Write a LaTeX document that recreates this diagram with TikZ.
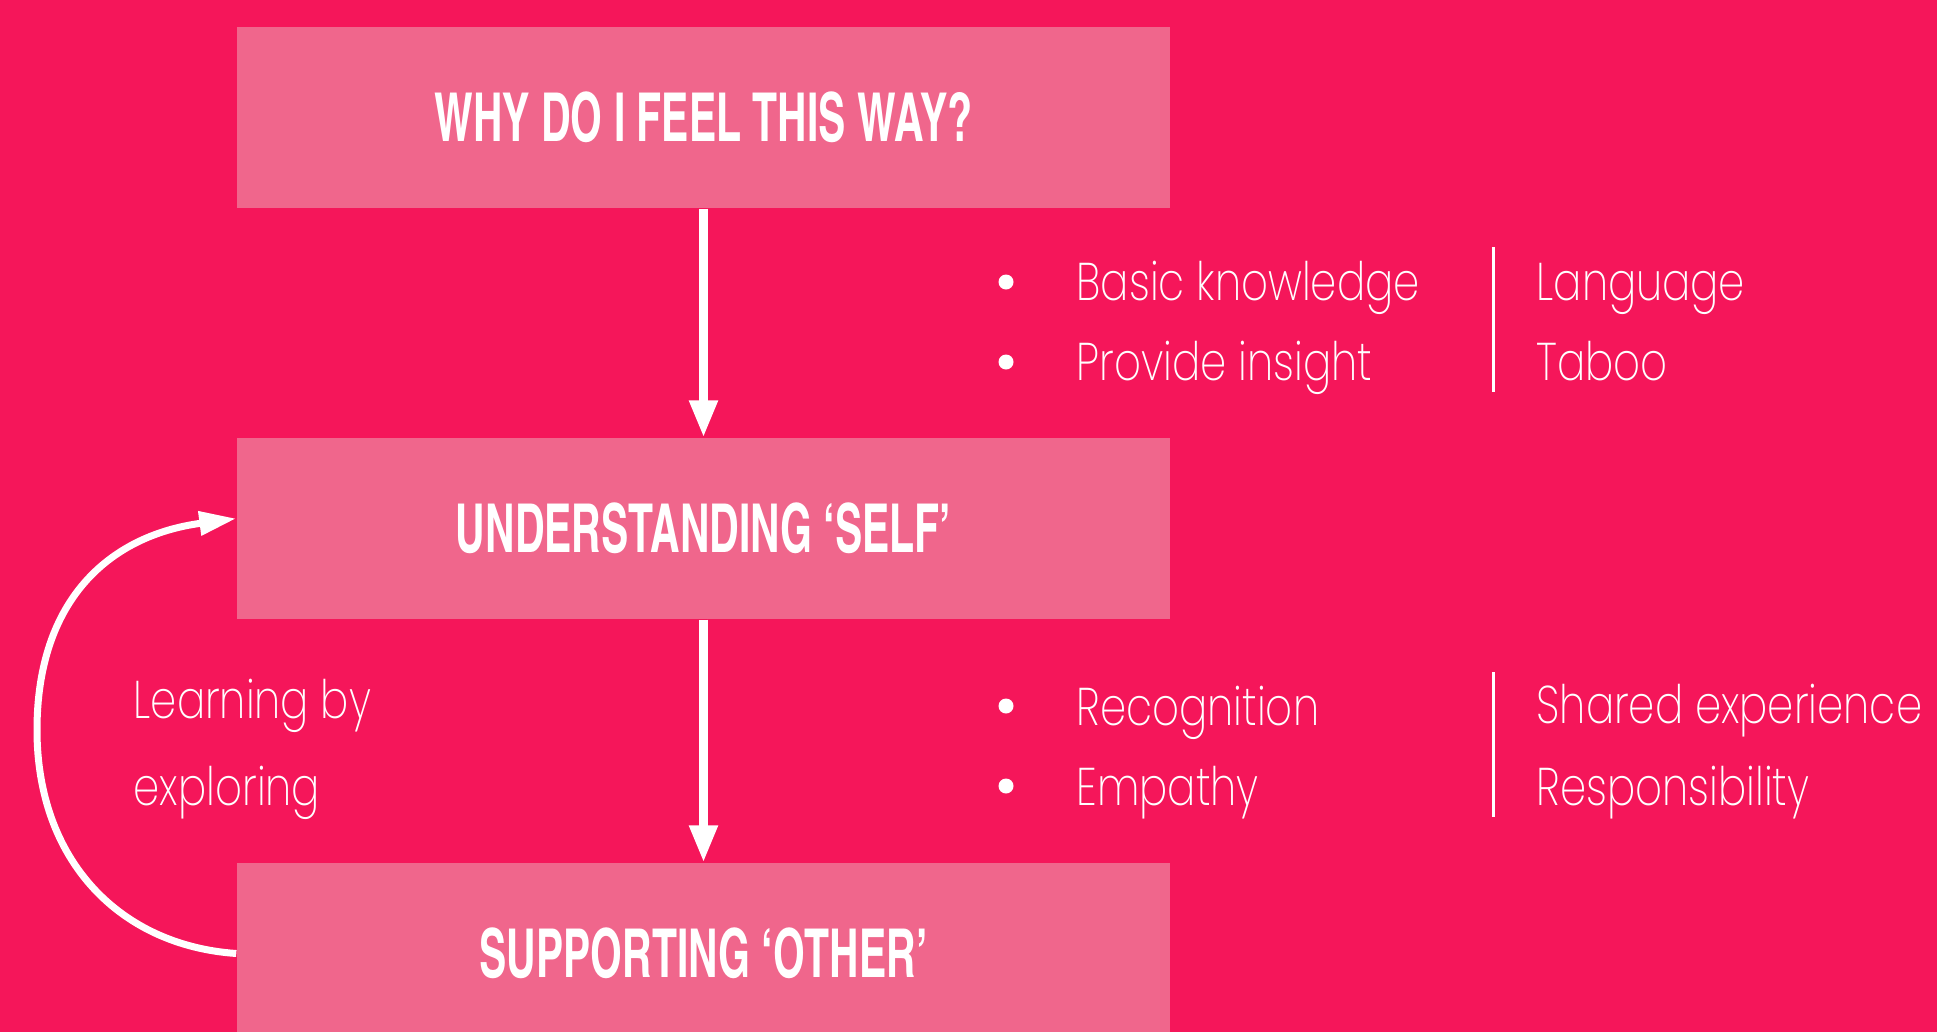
\documentclass[tikz,border=0pt]{standalone}
\usepackage{fontspec}
\usetikzlibrary{arrows.meta,calc}
\newfontfamily\titlefont[FakeStretch=0.74]{texgyreheroscn-bold.otf}
\newfontfamily\bodyfont[FakeStretch=0.79]{Poppins ExtraLight}
\definecolor{colorBG}{HTML}{F5165A}
\definecolor{colorBOX}{HTML}{F0668C}
\tikzset{
   stage/.style={fill=colorBOX,minimum width=93.3mm,minimum height=18.1mm,inner sep=0pt,text=white,font=\titlefont\fontsize{19.2}{22}\selectfont},
   flow/.style={-{Triangle[width=2.7mm,length=3.7mm]},draw=white,line width=0.83mm},
   loopback/.style={-{Triangle[width=2.3mm,length=3.7mm]},draw=white,line width=0.7mm},
   item/.style={anchor=base west,inner sep=0pt,text=white,font=\bodyfont\fontsize{15.1}{18}\selectfont},
   dot/.style={circle,fill=white,minimum size=1.5mm,inner sep=0pt},
   sep/.style={draw=white,line width=0.3mm},
}

\begin{document}
\begin{tikzpicture}[x=0.1mm, y=-0.1mm]
    \fill[colorBG] (0,0) rectangle (1937,1032);
    \useasboundingbox (0,0) rectangle (1937,1032);

    \node[stage] (why) at (703.5,117.5) {WHY DO I FEEL THIS WAY?};
    \node[stage] (und) at (703.5,528.5) {UNDERSTANDING ‘SELF’};
    \node[stage] (sup) at (703.5,953.5) {SUPPORTING ‘OTHER’};

    \draw[flow] (why) -- (und);
    \draw[flow] (und) -- (sup);

    \coordinate (lft) at (37,730);
    \draw[loopback] (sup.west) .. controls +(-117,-8) and +(0,130) .. (lft)
        .. controls +(0,-130) and +(-127,17) .. ([yshift=1mm]und.west);

    \node[item] (tlearn) at (133,718) {Learning by};
    \node[item] (texpl)  at (133,805) {exploring};

    \node[dot] (ba) at (1006,282) {};
    \node[dot] (bb) at (1006,362) {};
    \node[item] (tbasic) at (1076,300) {Basic knowledge};
    \node[item] (tprov)  at (1076,380) {Provide insight};
    \draw[sep] (1493,247) -- (1493,392);
    \node[item] (tlang)  at (1536,300) {Language};
    \node[item] (ttaboo) at (1536,380) {Taboo};

    \node[dot] (bc) at (1006,706) {};
    \node[dot] (bd) at (1006,786) {};
    \node[item] (trec)   at (1076,725) {Recognition};
    \node[item] (temp)   at (1076,805) {Empathy};
    \draw[sep] (1493,672) -- (1493,817);
    \node[item] (tshared) at (1536,723) {Shared experience};
    \node[item] (tresp)   at (1536,805) {Responsibility};

\end{tikzpicture}
\end{document}
